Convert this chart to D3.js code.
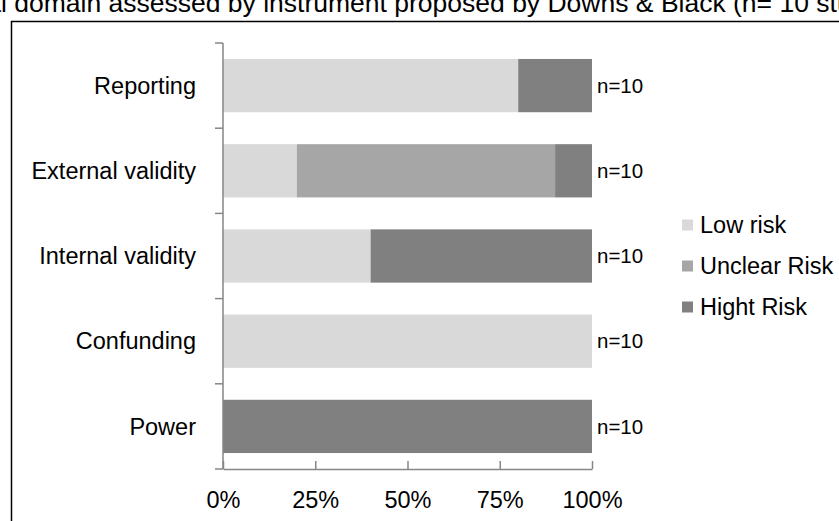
<!DOCTYPE html>
<html>
<head>
<meta charset="utf-8">
<script src="https://cdn.jsdelivr.net/npm/d3@7"></script>
<style>
  body { margin: 0; background: #fff; }
  svg { font-family: "Liberation Sans", Arial, sans-serif; }
</style>
</head>
<body>
<div id="my_dataviz"></div>
<script>
// data (percent of studies)
var categories = ["Reporting", "External validity", "Internal validity", "Confunding", "Power"];
var series = ["Low risk", "Unclear Risk", "Hight Risk"];
var lowRisk = [80, 20, 40, 100, 0];
var unclearRisk = [0, 70, 0, 0, 0];
var highRisk = [20, 10, 60, 0, 100];
var nLabels = ["n=10", "n=10", "n=10", "n=10", "n=10"];
var xTicks = [0, 25, 50, 75, 100];
var colors = ["#d9d9d9", "#a6a6a6", "#808080"];

var W = 839, H = 521;
var margin = {top: 43, left: 223};
var width = 369, height = 426;

var svg = d3.select("#my_dataviz")
  .append("svg")
    .attr("width", W)
    .attr("height", H);

// title, cut off at both sides like the original
var prefix = "individua";
var titleSize = "26.5px";
var title = svg.append("text")
  .attr("y", 12)
  .style("font-size", titleSize)
  .attr("fill", "#000")
  .text(prefix + "l domain assessed by instrument proposed by Downs & Black (n= 10 studies)");
var tmp = svg.append("text").style("font-size", titleSize).text(prefix);
var pw = tmp.node().getComputedTextLength();
tmp.remove();
title.attr("x", 1 - pw);

// frame
svg.append("rect")
  .attr("x", 11.5).attr("y", 21.5)
  .attr("width", W).attr("height", H)
  .attr("fill", "white")
  .attr("stroke", "#000")
  .attr("stroke-width", 1.5);

var g = svg.append("g")
  .attr("transform", "translate(" + margin.left + "," + margin.top + ")");

var x = d3.scaleLinear().domain([0, 100]).range([0, width]);
var y = d3.scaleBand().domain(categories).range([0, height]).paddingInner(0.375).paddingOuter(0.1875);

// stack
var rows = categories.map(function(c, i) {
  return {cat: c, "Low risk": lowRisk[i], "Unclear Risk": unclearRisk[i], "Hight Risk": highRisk[i]};
});
var stacked = d3.stack().keys(series)(rows);

g.selectAll(".layer")
  .data(stacked)
  .enter().append("g")
    .attr("fill", function(d, i) { return colors[i]; })
  .selectAll("rect")
  .data(function(d) { return d; })
  .enter().append("rect")
    .attr("x", function(d) { return x(d[0]); })
    .attr("width", function(d) { return x(d[1]) - x(d[0]); })
    .attr("y", function(d) { return y(d.data.cat); })
    .attr("height", y.bandwidth());

// n labels
g.selectAll(".nlab")
  .data(categories)
  .enter().append("text")
    .attr("x", width + 5)
    .attr("y", function(d) { return y(d) + y.bandwidth() / 2; })
    .attr("dy", "0.35em")
    .style("font-size", "20.5px")
    .text(function(d, i) { return nLabels[i]; });

// y axis: line + ticks at band boundaries
var axisColor = "#868686";
g.append("line")
  .attr("x1", 0).attr("x2", 0).attr("y1", 0).attr("y2", height)
  .attr("stroke", axisColor).attr("stroke-width", 1.5);
var bounds = d3.range(categories.length + 1).map(function(i) { return i * y.step(); });
g.selectAll(".ytick")
  .data(bounds)
  .enter().append("line")
    .attr("x1", -8).attr("x2", 0)
    .attr("y1", function(d) { return d; }).attr("y2", function(d) { return d; })
    .attr("stroke", axisColor).attr("stroke-width", 1.5);
g.selectAll(".ylab")
  .data(categories)
  .enter().append("text")
    .attr("x", -27)
    .attr("y", function(d) { return y(d) + y.bandwidth() / 2; })
    .attr("dy", "0.35em")
    .attr("text-anchor", "end")
    .style("font-size", "23.5px")
    .text(function(d) { return d; });

// x axis
var xAxis = g.append("g")
  .attr("transform", "translate(0," + height + ")")
  .call(d3.axisBottom(x).tickValues(xTicks).tickSize(8).tickSizeOuter(0).tickFormat(function(d) { return d + "%"; }));
xAxis.select(".domain").attr("stroke", axisColor).attr("stroke-width", 1.5);
xAxis.selectAll(".tick line").attr("stroke", axisColor).attr("stroke-width", 1.5).attr("y1", -8).attr("y2", 0);
xAxis.selectAll(".tick text")
  .attr("y", 31).attr("dy", "0.35em")
  .style("font-size", "23.5px")
  .style("font-family", "'Liberation Sans', Arial, sans-serif")
  .attr("fill", "#000");

// legend
var legend = svg.append("g").attr("transform", "translate(682,225)");
series.forEach(function(s, i) {
  var row = legend.append("g").attr("transform", "translate(0," + (i * 41) + ")");
  row.append("rect").attr("x", 0).attr("y", -5.5).attr("width", 11).attr("height", 11).attr("fill", colors[i]);
  row.append("text").attr("x", 18).attr("dy", "0.35em").style("font-size", "23.5px").text(s);
});
</script>
</body>
</html>
